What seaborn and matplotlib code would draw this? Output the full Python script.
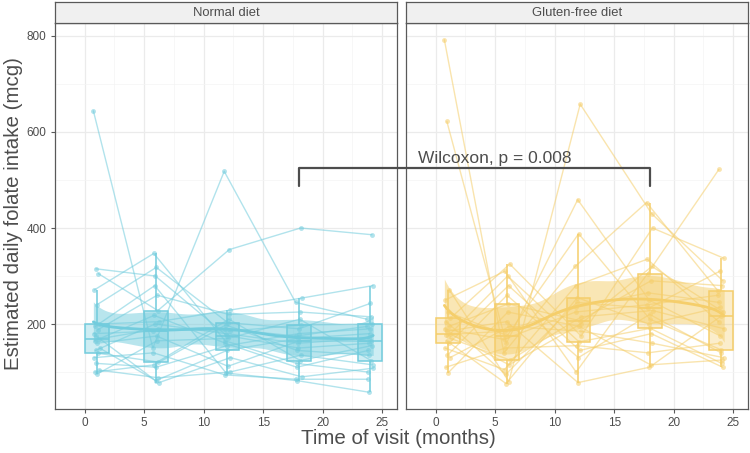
import numpy as np
import pandas as pd
import seaborn as sns
import matplotlib
matplotlib.use("Agg")
import matplotlib.pyplot as plt
from matplotlib.colors import to_rgba
from matplotlib.lines import Line2D

# ---------------------------------------------------------------- data
visits = [1, 6, 12, 18, 24]
panels = ["Normal diet", "Gluten-free diet"]
colors = {"Normal diet": "#72CCDD", "Gluten-free diet": "#F5CE6B"}

# one row per subject, values at months 1, 6, 12, 18, 24
normal_diet = [
    [644, 150, 518, 245, 210], [315, 300, 176, 150, 160], [305, 228, 355, 400, 386],
    [271, 347, 165, 118, 100], [240, 318, 203, 190, 243], [200, 205, 229, 254, 280],
    [195, 280, 98, 82, 58], [188, 260, 220, 225, 215], [180, 185, 190, 175, 195],
    [175, 82, 145, 170, 180], [169, 190, 185, 198, 200], [165, 218, 160, 110, 145],
    [160, 175, 112, 165, 164], [150, 78, 130, 90, 108], [145, 200, 180, 160, 170],
    [139, 121, 210, 124, 155], [130, 140, 94, 85, 85], [118, 110, 155, 180, 190],
    [104, 88, 100, 135, 115], [100, 115, 198, 145, 135], [96, 165, 170, 210, 124],
]
gluten_free = [
    [792, 140, 320, 453, 269], [622, 160, 459, 250, 175], [271, 80, 658, 430, 290],
    [250, 310, 100, 305, 522], [225, 176, 388, 210, 146], [212, 325, 175, 400, 337],
    [205, 95, 245, 233, 310], [195, 242, 207, 290, 280], [190, 168, 225, 240, 260],
    [185, 205, 78, 110, 216], [180, 115, 200, 320, 225], [178, 185, 235, 265, 245],
    [175, 300, 163, 191, 118], [170, 125, 215, 228, 190], [165, 76, 255, 200, 235],
    [160, 280, 145, 180, 110], [150, 105, 280, 335, 205], [135, 260, 130, 220, 140],
    [130, 195, 185, 160, 130], [110, 150, 155, 140, 160], [99, 225, 195, 115, 125],
]
p_label = "Wilcoxon, p = 0.008"

# ---------------------------------------------------------------- tidy frame
rows = []
for diet, table in zip(panels, [normal_diet, gluten_free]):
    for i, subj in enumerate(table):
        offset = ((i * 0.381) % 1 - 0.5) * 0.55   # small per-subject visit-time spread
        for v, val in zip(visits, subj):
            rows.append({"diet": diet, "subject": f"{diet}-{i}", "visit": v,
                         "time": v + offset, "value": val})
df = pd.DataFrame(rows)


def local_quadratic(x, y, grid, bw=3.5):
    # kernel-weighted local quadratic smoother with pointwise standard error
    n = len(x)

    def row(x0):
        w = np.exp(-0.5 * ((x - x0) / bw) ** 2)
        X = np.column_stack([np.ones(n), x - x0, (x - x0) ** 2])
        A = X.T @ (X * w[:, None])
        return np.linalg.solve(A, (X * w[:, None]).T)[0]

    L = np.array([row(x0) for x0 in x])
    resid = y - L @ y
    M = np.eye(n) - L
    sigma = np.sqrt(np.sum(resid ** 2) / np.trace(M.T @ M))
    G = np.array([row(x0) for x0 in grid])
    return G @ y, sigma * np.sqrt(np.sum(G ** 2, axis=1))


# ---------------------------------------------------------------- style
sns.set_theme(style="white")
plt.rcParams["font.family"] = ["Liberation Sans", "DejaVu Sans"]
GREY30 = "#4D4D4D"

fig = plt.figure(figsize=(7.5, 4.53), dpi=100)
W, H = 750, 453
axes = []
for left in [55, 406]:
    ax = fig.add_axes([left / W, (H - 409) / H, 342 / W, 386 / H])
    strip = fig.add_axes([left / W, (H - 23) / H, 342 / W, 21 / H])
    axes.append((ax, strip))

for (ax, strip), diet in zip(axes, panels):
    c = colors[diet]
    sub = df[df["diet"] == diet]

    ax.set_axisbelow(True)
    sns.lineplot(data=sub, x="time", y="value", units="subject", estimator=None,
                 color=c, alpha=0.55, lw=1, marker="o", markersize=3.5,
                 markeredgewidth=0, ax=ax, zorder=2)
    sns.boxplot(data=sub, x="visit", y="value", native_scale=True, width=0.4,
                color=c, linecolor=c, linewidth=1.1, showfliers=False,
                showcaps=False, ax=ax, zorder=3)
    for p in ax.patches:
        p.set_facecolor(to_rgba(c, 0.35))
        p.set_edgecolor(c)

    grid = np.linspace(sub["time"].min(), sub["time"].max(), 120)
    fit, se = local_quadratic(sub["time"].to_numpy(float),
                              sub["value"].to_numpy(float), grid)
    ax.fill_between(grid, fit - 1.98 * se, fit + 1.98 * se, color=c, alpha=0.5,
                    lw=0, zorder=4)
    ax.plot(grid, fit, color=c, lw=2, zorder=5)

    ax.set_xlim(-1.2, 26.25)
    ax.set_ylim(23, 827)
    ax.set_xticks([0, 5, 10, 15, 20, 25])
    ax.set_xticks(np.arange(-2.5, 27, 2.5), minor=True)
    ax.set_yticks([200, 400, 600, 800])
    ax.set_yticks([100, 300, 500, 700], minor=True)
    ax.grid(which="major", color="#EBEBEB", lw=0.9)
    ax.grid(which="minor", color="#F4F4F4", lw=0.5)
    ax.set_xlabel("")
    ax.set_ylabel("")
    for s in ax.spines.values():
        s.set_color("#595959")
        s.set_linewidth(0.9)
    ax.tick_params(axis="both", which="major", length=3, width=0.8, color="#595959",
                   labelsize=8.5, labelcolor=GREY30, pad=3, bottom=True, left=True)
    ax.tick_params(which="minor", length=0)

    strip.set_facecolor("#F0F0F0")
    strip.set_xticks([])
    strip.set_yticks([])
    for s in strip.spines.values():
        s.set_color("#595959")
        s.set_linewidth(0.9)
    strip.text(0.5, 0.5, diet, ha="center", va="center", fontsize=9.4,
               color=GREY30, transform=strip.transAxes)

ax1, ax2 = axes[0][0], axes[1][0]
ax2.tick_params(axis="y", left=False, labelleft=False)

# bracket spanning both panels
inv = fig.transFigure.inverted()
top_l = inv.transform(ax1.transData.transform((18, 525)))
bot_l = inv.transform(ax1.transData.transform((18, 488)))
top_r = inv.transform(ax2.transData.transform((18, 525)))
bot_r = inv.transform(ax2.transData.transform((18, 488)))
fig.add_artist(Line2D([bot_l[0], top_l[0], top_r[0], bot_r[0]],
                      [bot_l[1], top_l[1], top_r[1], bot_r[1]],
                      color=GREY30, lw=1.6, transform=fig.transFigure, zorder=10))
txt = inv.transform(ax2.transData.transform((-1.45, 530)))
fig.text(txt[0], txt[1], p_label, ha="left", va="bottom", fontsize=12.5,
         color=GREY30, zorder=10)

fig.text(398 / W, 1 - 439 / H, "Time of visit (months)", ha="center", va="center",
         fontsize=14.8, color=GREY30)
fig.text(14 / W, 1 - 214 / H, "Estimated daily folate intake (mcg)", ha="center",
         va="center", rotation=90, fontsize=14.8, color=GREY30)

fig.savefig("out.png", dpi=100)
